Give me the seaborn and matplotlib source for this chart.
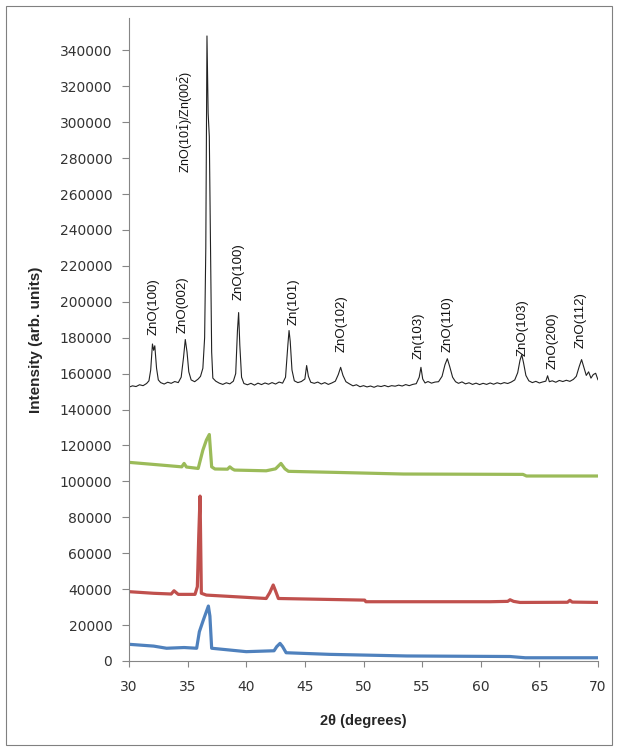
import matplotlib
matplotlib.use("Agg")
import matplotlib.pyplot as plt
import seaborn as sns
from matplotlib.patches import Rectangle

# black trace (top, annotated)
black_x = [30.0, 30.3, 30.6, 30.9, 31.2, 31.5, 31.7, 31.85, 32.0, 32.1, 32.2, 32.35, 32.5, 32.7,
           33.0, 33.3, 33.6, 33.9, 34.2, 34.45, 34.65, 34.8, 34.95, 35.1, 35.3, 35.6, 35.9, 36.1,
           36.3, 36.45, 36.55, 36.65, 36.75, 36.85, 36.95, 37.05, 37.15, 37.4, 37.7, 38.0, 38.3,
           38.6, 38.9, 39.1, 39.25, 39.35, 39.45, 39.6, 39.8, 40.1, 40.4, 40.7, 41.0, 41.3, 41.6,
           41.9, 42.2, 42.5, 42.8, 43.1, 43.35, 43.55, 43.65, 43.75, 43.9, 44.1, 44.4, 44.7, 45.0,
           45.15, 45.3, 45.5, 45.8, 46.1, 46.4, 46.7, 47.0, 47.3, 47.6, 47.85, 48.05, 48.25, 48.5,
           48.8, 49.1, 49.4, 49.7, 50.0, 50.3, 50.6, 50.9, 51.2, 51.5, 51.8, 52.1, 52.4, 52.7,
           53.0, 53.3, 53.6, 53.9, 54.2, 54.5, 54.75, 54.9, 55.05, 55.25, 55.5, 55.8, 56.1, 56.4,
           56.7, 56.95, 57.15, 57.35, 57.6, 57.85, 58.1, 58.4, 58.7, 59.0, 59.3, 59.6, 59.9, 60.2,
           60.5, 60.8, 61.1, 61.4, 61.7, 62.0, 62.3, 62.6, 62.9, 63.15, 63.35, 63.5, 63.65, 63.85,
           64.1, 64.4, 64.7, 65.0, 65.3, 65.55, 65.7, 65.85, 66.1, 66.4, 66.7, 67.0, 67.3, 67.6,
           67.9, 68.15, 68.4, 68.6, 68.8, 69.0, 69.2, 69.4, 69.6, 69.8, 70.0]
black_y = [152500, 153200, 152800, 153800, 153300, 154500, 156000, 162000, 176500, 173000, 175500,
           163000, 156500, 155000, 154200, 155200, 154600, 155600, 155000, 158000, 169000, 179000,
           172000, 161000, 156500, 155500, 157000, 158500, 163000, 180000, 230000, 348000, 305000,
           292000, 230000, 172000, 157500, 155800, 154700, 154000, 154900, 154300, 155800, 160000,
           184000, 194000, 176000, 158000, 154500, 153800, 154600, 153600, 154700, 153900, 154800,
           154100, 155000, 154200, 155300, 154700, 158000, 176000, 184000, 178000, 162000, 156000,
           155000, 155600, 157000, 164500, 158500, 155200, 154600, 155300, 154200, 155000, 154000,
           154800, 155800, 159500, 163500, 159000, 155500, 154300, 153200, 153800, 152700, 153300,
           152600, 153100, 152400, 153200, 152800, 153400, 152700, 153300, 153000, 153600, 153100,
           153900, 153300, 154000, 154400, 158000, 163500, 157000, 154800, 155600, 154700, 155300,
           155500, 158500, 165000, 168300, 164000, 158000, 155500, 154600, 155400, 154300, 154900,
           154000, 154700, 153900, 154600, 154000, 154800, 154100, 154900, 154300, 155000, 154500,
           155300, 156500, 160500, 167500, 170500, 166000, 159000, 156000, 155000, 155700, 154800,
           155400, 155800, 158800, 155500, 156000, 155200, 156200, 155600, 156300, 155700, 156800,
           158500, 164000, 167800, 163500, 159000, 161000, 157500, 159500, 160200, 156500]

# green trace
green_x = [30.0, 32.0, 34.5, 34.7, 34.9, 35.9, 36.3, 36.6, 36.85, 37.05, 37.33, 38.4, 38.6, 38.8,
           39.0, 41.7, 42.5, 42.96, 43.3, 43.6, 47.7, 53.4, 63.6, 63.9, 70.0]
green_y = [110600, 109500, 108100, 110000, 108000, 107200, 117400, 123000, 126100, 108100, 106900,
           106800, 108100, 107000, 106300, 105900, 107000, 110000, 107000, 105600, 105000, 104100,
           103900, 103000, 103000]

# red trace
red_x = [30.0, 32.1, 33.6, 33.84, 34.2, 35.63, 35.83, 35.95, 36.06, 36.17, 36.6, 41.7, 42.0, 42.3,
         42.5, 42.74, 50.1, 50.2, 60.8, 62.3, 62.5, 62.8, 63.35, 67.4, 67.6, 67.8, 70.0]
red_y = [38600, 37700, 37300, 39100, 37100, 37100, 41400, 70000, 91800, 37700, 36700, 34800, 38000,
         42300, 39000, 34800, 33900, 33000, 33000, 33200, 34100, 33200, 32600, 32700, 33800, 32800,
         32600]

# blue trace
blue_x = [30.0, 32.1, 33.2, 34.7, 35.77, 36.0, 36.34, 36.77, 36.9, 37.05, 40.0, 42.37, 42.6, 42.88,
          43.1, 43.4, 47.1, 53.7, 62.5, 63.8, 70.0]
blue_y = [9300, 8300, 7100, 7500, 7100, 16300, 22800, 30600, 25000, 7100, 5200, 5700, 8000, 9800,
          8000, 4600, 3700, 2800, 2500, 1800, 1800]

# peak labels
peak_labels = ["ZnO(100)", "ZnO(002)",
               r"ZnO(10$\mathregular{\bar{1}}$)/Zn(00$\mathregular{\bar{2}}$)",
               "ZnO(100)", "Zn(101)", "ZnO(102)", "Zn(103)", "ZnO(110)", "ZnO(103)",
               "ZnO(200)", "ZnO(112)"]
label_x = [32.07, 34.58, 34.86, 39.32, 44.0, 48.13, 54.68, 57.18, 63.57, 66.1, 68.55]
label_y = [181400, 182500, 271600, 200900, 187000, 172100, 168400, 172100, 169600, 162300, 174000]

sns.set_style("ticks")
plt.rcParams['font.family'] = ['Liberation Sans', 'DejaVu Sans']

fig = plt.figure(figsize=(6.18, 7.51), dpi=100)
ax = fig.add_axes([129 / 618, 1 - 661 / 751, (598 - 129) / 618, (661 - 18) / 751])

sns.lineplot(x=blue_x, y=blue_y, ax=ax, color="#4F81BD", linewidth=2.3, sort=False, estimator=None)
sns.lineplot(x=red_x, y=red_y, ax=ax, color="#C0504D", linewidth=2.3, sort=False, estimator=None)
sns.lineplot(x=green_x, y=green_y, ax=ax, color="#9BBB59", linewidth=2.3, sort=False, estimator=None)
sns.lineplot(x=black_x, y=black_y, ax=ax, color="#222222", linewidth=0.8, sort=False, estimator=None)

for lab, lx, ly in zip(peak_labels, label_x, label_y):
    size = 9 if "/" in lab else 9.5
    ax.text(lx, ly, lab, rotation=90, ha="center", va="bottom", fontsize=size, color="#111111")

ax.set_xlim(30, 70)
ax.set_ylim(0, 358000)
ax.set_xticks(range(30, 71, 5))
ax.set_yticks(range(0, 340001, 20000))
ax.tick_params(width=0.8, colors="#868686", labelcolor="#333333")
ax.tick_params(axis="y", direction="out", length=5, pad=7)
ax.tick_params(axis="x", direction="out", length=4, pad=10)
for t in ax.get_xticklabels() + ax.get_yticklabels():
    t.set_family("DejaVu Sans")
    t.set_fontsize(10)
for s in ["left", "bottom"]:
    ax.spines[s].set_color("#868686")
sns.despine(ax=ax)

ax.set_xlabel("2θ (degrees)", fontsize=10.5, fontweight="bold", labelpad=14)
ax.set_ylabel("Intensity (arb. units)", fontsize=11, fontweight="bold", labelpad=12)

fig.patches.append(Rectangle((6 / 618, 6 / 751), 606 / 618, 739 / 751, transform=fig.transFigure,
                             fill=False, edgecolor="#808080", linewidth=0.8))

fig.savefig("out.png", dpi=100)
